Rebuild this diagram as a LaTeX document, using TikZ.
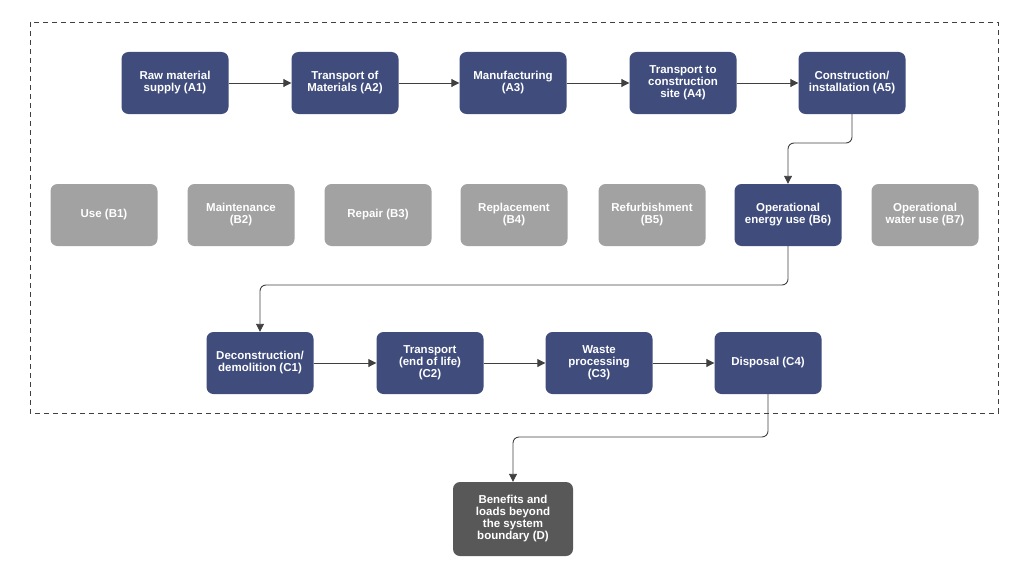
\documentclass[tikz,border=0pt]{standalone}
\usepackage{fontspec}
\setmainfont{Liberation Sans}
\usetikzlibrary{arrows.meta}
\definecolor{navy}{HTML}{3F4C7C}
\definecolor{lgray}{HTML}{A2A2A2}
\definecolor{dgray}{HTML}{585858}
\tikzset{
 box/.style={rounded corners=7pt, minimum width=107pt, minimum height=62pt, text=white, font=\bfseries\fontsize{11.5}{12}\selectfont, align=center, inner sep=2pt},
 nbox/.style={box, fill=navy},
 gbox/.style={box, fill=lgray},
 dbox/.style={box, fill=dgray, minimum width=120pt, minimum height=74pt},
 conn/.style={draw=black!75, line width=0.9pt, -{Triangle[length=8pt,width=8pt]}, rounded corners=6pt}
}
\begin{document}
\begin{tikzpicture}[x=1pt,y=-1pt]
\useasboundingbox (0,0) rectangle (1024,578);
\draw[black!75, dashed, dash pattern=on 5pt off 4pt, line width=0.9pt] (30,22) rectangle (998,413);
\node[nbox] (a1) at (175,83) {Raw material\\supply (A1)};
\node[nbox] (a2) at (345,83) {Transport of\\Materials (A2)};
\node[nbox] (a3) at (513,83) {Manufacturing\\(A3)};
\node[nbox] (a4) at (683,83) {Transport to\\construction\\site (A4)};
\node[nbox] (a5) at (852,83) {Construction/\\installation (A5)};
\node[gbox] (b1) at (104,215) {Use (B1)};
\node[gbox] (b2) at (241,215) {Maintenance\\(B2)};
\node[gbox] (b3) at (378,215) {Repair (B3)};
\node[gbox] (b4) at (514,215) {Replacement\\(B4)};
\node[gbox] (b5) at (652,215) {Refurbishment\\(B5)};
\node[nbox] (b6) at (788,215) {Operational\\energy use (B6)};
\node[gbox] (b7) at (925,215) {Operational\\water use (B7)};
\node[nbox] (c1) at (260,363) {Deconstruction/\\demolition (C1)};
\node[nbox] (c2) at (430,363) {Transport\\(end of life)\\(C2)};
\node[nbox] (c3) at (599,363) {Waste\\processing\\(C3)};
\node[nbox] (c4) at (768,363) {Disposal (C4)};
\node[dbox] (d) at (513,519) {Benefits and\\loads beyond\\the system\\boundary (D)};
\draw[conn] (a1) -- (a2);
\draw[conn] (a2) -- (a3);
\draw[conn] (a3) -- (a4);
\draw[conn] (a4) -- (a5);
\draw[conn] (c1) -- (c2);
\draw[conn] (c2) -- (c3);
\draw[conn] (c3) -- (c4);
\draw[conn] (a5.south) -- (852,143) -- (788,143) -- (b6.north);
\draw[conn] (b6.south) -- (788,285) -- (260,285) -- (c1.north);
\draw[conn] (c4.south) -- (768,437) -- (513,437) -- (d.north);
\end{tikzpicture}
\end{document}
